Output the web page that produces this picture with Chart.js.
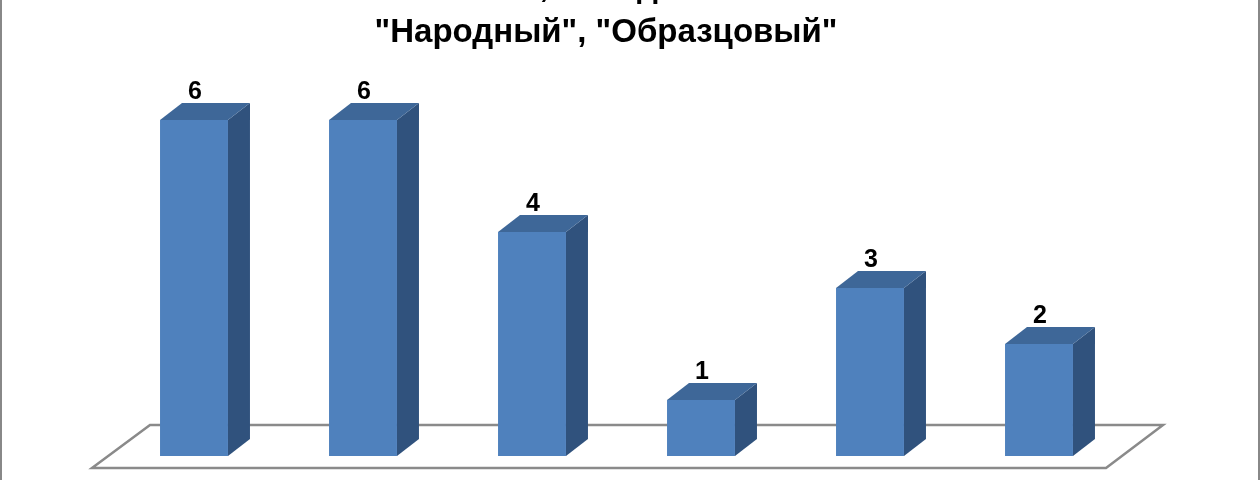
<!DOCTYPE html>
<html>
<head>
<meta charset="utf-8">
<script src="https://cdn.jsdelivr.net/npm/chart.js@4"></script>
<style>
  body { margin: 0; background: #fff; }
  #wrap { width: 1260px; height: 480px; position: relative; }
</style>
</head>
<body>
<div id="wrap"><canvas id="myChart"></canvas></div>
<script>
// data
var categories = ['1', '2', '3', '4', '5', '6'];
var values = [6, 6, 4, 1, 3, 2];
var titleLines = ['Коллективы, обладатели звания', '"Народный", "Образцовый"'];

var frontColor = '#4F81BD';
var topColor = '#3E6798';
var sideColor = '#30527D';
var depth = { x: 22, y: -17 };

// floor, side/top faces, labels, title - drawn around the library's bars
var bars3d = {
    id: 'bars3d',
    beforeDatasetsDraw: function(chart) {
        var ctx = chart.ctx;
        var area = chart.chartArea;
        var b = area.bottom;
        ctx.save();
        ctx.strokeStyle = '#8a8a8a';
        ctx.lineWidth = 2.5;
        ctx.beginPath();
        ctx.moveTo(area.left - 17.5, b + 12);
        ctx.lineTo(area.right - 17.5, b + 12);
        ctx.lineTo(area.right + 39.5, b - 31);
        ctx.lineTo(area.left + 40.5, b - 31);
        ctx.closePath();
        ctx.stroke();
        ctx.restore();
    },
    afterDatasetsDraw: function(chart) {
        var ctx = chart.ctx;
        var meta = chart.getDatasetMeta(0);
        ctx.save();
        meta.data.forEach(function(bar, i) {
            var half = bar.width / 2;
            var l = bar.x - half, r = bar.x + half;
            var t = bar.y, b = bar.base;
            // side
            ctx.fillStyle = sideColor;
            ctx.beginPath();
            ctx.moveTo(r, t);
            ctx.lineTo(r + depth.x, t + depth.y);
            ctx.lineTo(r + depth.x, b + depth.y);
            ctx.lineTo(r, b);
            ctx.closePath();
            ctx.fill();
            // top
            ctx.fillStyle = topColor;
            ctx.beginPath();
            ctx.moveTo(l, t);
            ctx.lineTo(l + depth.x, t + depth.y);
            ctx.lineTo(r + depth.x, t + depth.y);
            ctx.lineTo(r, t);
            ctx.closePath();
            ctx.fill();
            // value label
            ctx.fillStyle = '#000';
            ctx.font = 'bold 25px "Liberation Sans", Arial, sans-serif';
            ctx.textAlign = 'center';
            ctx.textBaseline = 'alphabetic';
            ctx.fillText(String(values[i]), bar.x + 1, t + depth.y - 4);
        });
        ctx.restore();
    },
    afterDraw: function(chart) {
        var ctx = chart.ctx;
        ctx.save();
        ctx.fillStyle = '#000';
        ctx.font = 'bold 33px "Liberation Sans", Arial, sans-serif';
        ctx.textAlign = 'center';
        ctx.textBaseline = 'alphabetic';
        ctx.fillText(titleLines[0], 607, -3);
        ctx.fillText(titleLines[1], 606, 42);
        // outer border
        ctx.strokeStyle = '#888';
        ctx.lineWidth = 2;
        ctx.beginPath();
        ctx.moveTo(1, 0); ctx.lineTo(1, 480);
        ctx.moveTo(1259, 0); ctx.lineTo(1259, 480);
        ctx.stroke();
        ctx.restore();
    }
};

var ctx = document.getElementById('myChart').getContext('2d');
var myChart = new Chart(ctx, {
    type: 'bar',
    data: {
        labels: categories,
        datasets: [{
            data: values,
            backgroundColor: frontColor,
            borderWidth: 0,
            barPercentage: 0.402,
            categoryPercentage: 1
        }]
    },
    options: {
        responsive: true,
        maintainAspectRatio: false,
        animation: false,
        layout: { padding: { left: 109.5, right: 136.5, top: 8, bottom: 24 } },
        plugins: {
            legend: { display: false },
            title: { display: false },
            tooltip: { enabled: false }
        },
        scales: {
            x: { display: false },
            y: { display: false, min: 0, max: 8 }
        }
    },
    plugins: [bars3d]
});
</script>
</body>
</html>
